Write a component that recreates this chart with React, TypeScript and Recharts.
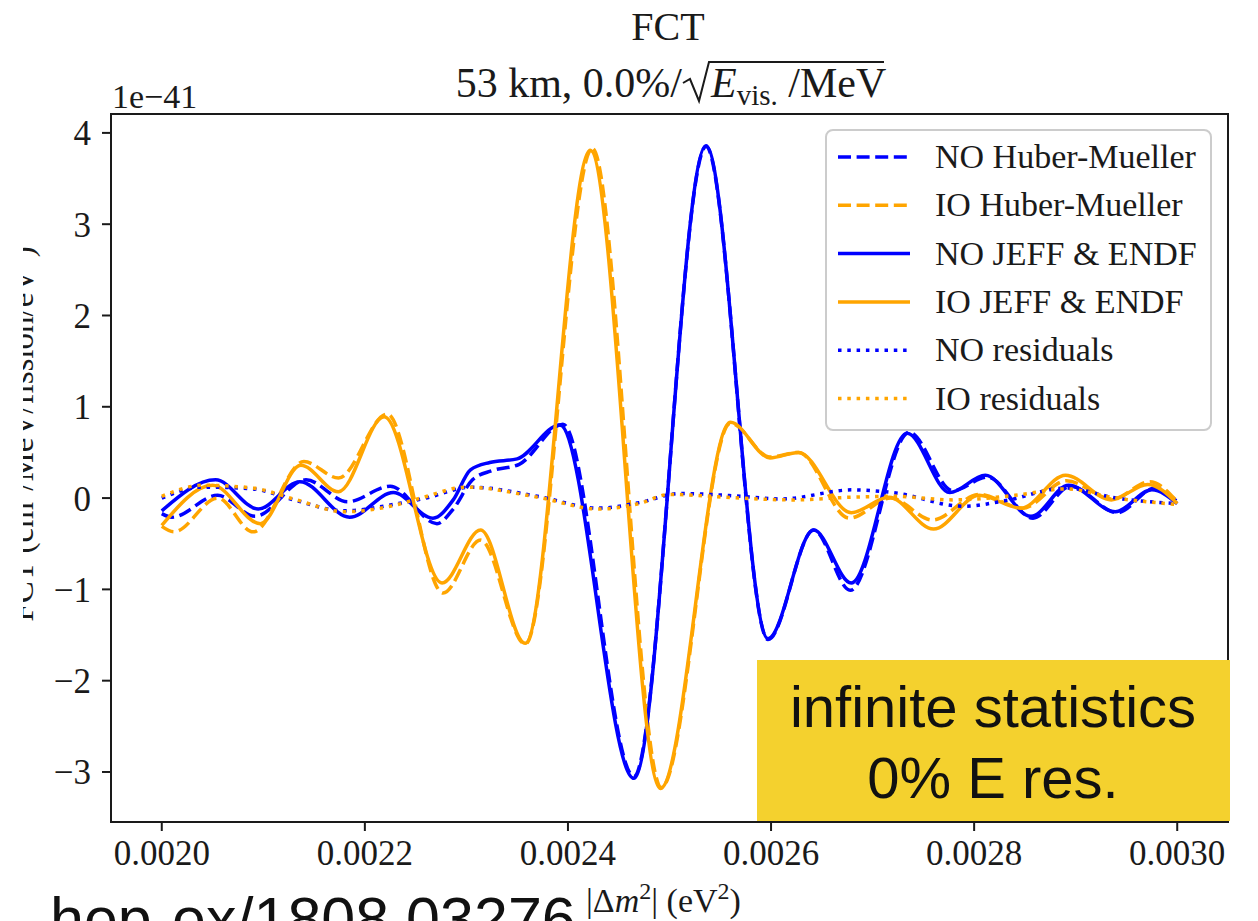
import React from 'react';
import { LineChart, Line, XAxis, YAxis, ReferenceArea } from 'recharts';

// ---- data (x in eV^2, y in units of 1e-41) ----
const NO_HM: [number, number][] = [
  [0.002, -0.17], [0.00201, -0.21], [0.002055, 0.03], [0.002092, -0.2], [0.002142, 0.2],
  [0.002183, -0.04], [0.002225, 0.13], [0.002271, -0.28], [0.002287, -0.12], [0.002306, 0.2],
  [0.002325, 0.3], [0.002352, 0.37], [0.002395, 0.81], [0.002465, -3.05], [0.002536, 3.85],
  [0.002597, -1.55], [0.002642, -0.35], [0.002678, -1.01], [0.002736, 0.72], [0.002779, 0.08],
  [0.002813, 0.23], [0.002858, -0.22], [0.002895, 0.13], [0.002941, -0.16], [0.002978, 0.11],
  [0.003, -0.04],
];
const IO_HM: [number, number][] = [
  [0.002, -0.31], [0.002012, -0.37], [0.002055, 0.0], [0.00209, -0.37], [0.00214, 0.4],
  [0.002174, 0.22], [0.002222, 0.92], [0.002277, -1.04], [0.002314, -0.46], [0.002358, -1.6],
  [0.002424, 3.83], [0.002492, -3.17], [0.00256, 0.82], [0.002599, 0.45], [0.002627, 0.5],
  [0.002677, -0.22], [0.002718, 0.0], [0.002759, -0.24], [0.002805, 0.04], [0.002848, -0.11],
  [0.002891, 0.19], [0.002936, -0.01], [0.002973, 0.18], [0.003, -0.04],
];
const NO_JEFF: [number, number][] = [
  [0.002, -0.14], [0.002053, 0.2], [0.002095, -0.12], [0.002136, 0.18], [0.002185, -0.21],
  [0.002228, 0.06], [0.002267, -0.22], [0.002287, -0.02], [0.002304, 0.31], [0.002323, 0.39],
  [0.00235, 0.43], [0.002392, 0.8], [0.002465, -3.07], [0.002536, 3.86], [0.002597, -1.54],
  [0.002642, -0.35], [0.002679, -0.93], [0.002734, 0.71], [0.002776, 0.06], [0.002811, 0.25],
  [0.002856, -0.2], [0.002893, 0.14], [0.002939, -0.15], [0.002975, 0.09], [0.003, -0.06],
];
const IO_JEFF: [number, number][] = [
  [0.002, -0.3], [0.00205, 0.14], [0.002097, -0.28], [0.002137, 0.36], [0.002174, 0.07],
  [0.002219, 0.89], [0.002276, -0.93], [0.002314, -0.35], [0.002358, -1.59], [0.002422, 3.81],
  [0.002491, -3.18], [0.00256, 0.83], [0.002599, 0.44], [0.002627, 0.5], [0.002679, -0.16],
  [0.002716, 0.01], [0.00276, -0.34], [0.002805, 0.03], [0.002846, -0.11], [0.00289, 0.25],
  [0.002935, -0.02], [0.002971, 0.15], [0.003, -0.06],
];
const NO_RES: [number, number][] = [
  [0.002, 0.0], [0.00204, 0.12], [0.00209, 0.1], [0.00213, -0.02], [0.00218, -0.14],
  [0.002228, -0.07], [0.00226, 0.0], [0.002305, 0.12], [0.00237, 0.02], [0.00243, -0.11],
  [0.00247, -0.05], [0.00251, 0.05], [0.00257, 0.02], [0.00261, -0.01], [0.00268, 0.09],
  [0.00272, 0.06], [0.00279, -0.09], [0.00283, -0.03], [0.00289, 0.11], [0.00294, 0.0],
  [0.003, -0.06],
];
const IO_RES: [number, number][] = [
  [0.002, 0.02], [0.00204, 0.14], [0.00209, 0.11], [0.00213, -0.01], [0.00218, -0.15],
  [0.002225, -0.09], [0.002255, 0.0], [0.0023, 0.12], [0.00237, 0.01], [0.00243, -0.12],
  [0.00247, -0.06], [0.0025, 0.04], [0.00257, 0.0], [0.00262, -0.02], [0.00268, 0.01],
  [0.00272, 0.02], [0.00278, -0.02], [0.00284, 0.03], [0.00289, 0.1], [0.00294, 0.0],
  [0.003, -0.07],
];

const X_TICKS = [0.002, 0.0022, 0.0024, 0.0026, 0.0028, 0.003];
const Y_TICKS = [-3, -2, -1, 0, 1, 2, 3, 4];
const X_DOMAIN: [number, number] = [0.00195, 0.00305];
const Y_DOMAIN: [number, number] = [-3.548, 4.207];

const BLUE = '#0000ff';
const ORANGE = '#ffa500';
const DASH = '13 5.6';
const DOT = '3.5 5.8';

const SERIES = [
  { name: 'NO Huber-Mueller', pts: NO_HM, color: BLUE, dash: DASH },
  { name: 'IO Huber-Mueller', pts: IO_HM, color: ORANGE, dash: DASH },
  { name: 'NO JEFF & ENDF', pts: NO_JEFF, color: BLUE, dash: undefined as string | undefined },
  { name: 'IO JEFF & ENDF', pts: IO_JEFF, color: ORANGE, dash: undefined as string | undefined },
  { name: 'NO residuals', pts: NO_RES, color: BLUE, dash: DOT },
  { name: 'IO residuals', pts: IO_RES, color: ORANGE, dash: DOT },
];

const SERIF = '"Liberation Serif", "Times New Roman", serif';
const SANS = '"Liberation Sans", Helvetica, Arial, sans-serif';
const INK = '#1a1a1a';

const fmtY = (v: number) => (v < 0 ? '\u2212' + Math.abs(v) : String(v));
const fmtX = (v: number) => v.toFixed(4);

export default function App() {
  return (
    <div style={{ position: 'absolute', left: 0, top: 0, width: 1258, height: 921, background: '#fff', overflow: 'hidden' }}>
      <LineChart width={1258} height={921} margin={{ top: 114, right: 30, bottom: 59, left: 51 }}>
        <XAxis
          type="number"
          dataKey="x"
          domain={X_DOMAIN}
          ticks={X_TICKS}
          tickFormatter={fmtX}
          allowDataOverflow
          height={40}
          tickSize={9}
          tickMargin={9}
          axisLine={{ stroke: INK, strokeWidth: 2 }}
          tickLine={{ stroke: INK, strokeWidth: 2 }}
          tick={{ fill: INK, fontSize: 35, fontFamily: SERIF }}
          interval={0}
        />
        <YAxis
          type="number"
          dataKey="y"
          domain={Y_DOMAIN}
          ticks={Y_TICKS}
          tickFormatter={fmtY}
          allowDataOverflow
          width={60}
          tickSize={9}
          tickMargin={11}
          axisLine={{ stroke: INK, strokeWidth: 2 }}
          tickLine={{ stroke: INK, strokeWidth: 2 }}
          tick={{ fill: INK, fontSize: 35, fontFamily: SERIF }}
          interval={0}
        />
        <ReferenceArea
          x1={X_DOMAIN[0]}
          x2={X_DOMAIN[1]}
          y1={Y_DOMAIN[0]}
          y2={Y_DOMAIN[1]}
          fill="none"
          fillOpacity={0}
          stroke={INK}
          strokeWidth={2}
          ifOverflow="visible"
        />
        {SERIES.map((s) => (
          <Line
            key={s.name}
            data={s.pts.map(([x, y]) => ({ x, y }))}
            dataKey="y"
            name={s.name}
            type="monotone"
            stroke={s.color}
            strokeWidth={3.5}
            strokeDasharray={s.dash}
            dot={false}
            activeDot={false}
            isAnimationActive={false}
          />
        ))}
      </LineChart>
      <svg
        width={1258}
        height={921}
        style={{ position: 'absolute', left: 0, top: 0, pointerEvents: 'none' }}
      >
        <defs>
          <clipPath id="ylabclip">
            <rect x={23} y={0} width={30} height={921} />
          </clipPath>
        </defs>
        {/* titles */}
        <text x={668} y={40} textAnchor="middle" fontSize={40} fontFamily={SERIF} fill={INK}>FCT</text>
        <text x={682} y={97} textAnchor="end" fontSize={42} fontFamily={SERIF} fill={INK}>53 km, 0.0%/</text>
        <path d="M683,83 L690,79 L699,101 L709,62 L884,62" fill="none" stroke={INK} strokeWidth={2} />
        <text x={711} y={97} fontSize={42} fontFamily={SERIF} fill={INK}>
          <tspan fontStyle="italic">E</tspan>
          <tspan fontSize={29} dy={8}>vis.</tspan>
          <tspan dy={-8}> /MeV</tspan>
        </text>
        {/* offset text */}
        <text x={112} y={108} fontSize={34} fontFamily={SERIF} fill={INK}>1e{'\u2212'}41</text>
        {/* y label (clipped as in the source) */}
        <g clipPath="url(#ylabclip)">
          <text transform="translate(33,434) rotate(-90)" textAnchor="middle" fontSize={33} fontFamily={SERIF} fill={INK}>
            FCT (cm<tspan fontSize={23} dy={-12}>2</tspan><tspan dy={12}>/MeV/fission/eV</tspan><tspan fontSize={23} dy={-12}>2</tspan><tspan dy={12}>)</tspan>
          </text>
        </g>
        {/* x label */}
        <text x={586} y={912} fontSize={34} fontFamily={SERIF} fill={INK}>
          |{'\u0394'}<tspan fontStyle="italic">m</tspan><tspan fontSize={24} dy={-13}>2</tspan><tspan dy={13}>| (eV</tspan><tspan fontSize={24} dy={-13}>2</tspan><tspan dy={13}>)</tspan>
        </text>
        {/* legend */}
        <rect x={826} y={130} width={385} height={300} rx={7} fill="#fff" fillOpacity={0.85} stroke="#cccccc" strokeWidth={2} />
        {SERIES.map((s, i) => {
          const y = 157 + i * 48.3;
          return (
            <g key={s.name}>
              <line x1={838} x2={910} y1={y} y2={y} stroke={s.color} strokeWidth={3.5} strokeDasharray={s.dash} />
              <text x={935} y={y + 11} fontSize={34} fontFamily={SERIF} fill={INK}>{s.name}</text>
            </g>
          );
        })}
        {/* annotation box */}
        <rect x={757} y={660} width={473} height={161} fill="#f4d12e" />
        <text x={993} y={727} textAnchor="middle" fontSize={58} fontFamily={SANS} fill="#111">infinite statistics</text>
        <text x={993} y={798} textAnchor="middle" fontSize={58} fontFamily={SANS} fill="#111">0% E res.</text>
        {/* reference */}
        <text x={50} y={940} fontSize={61} fontFamily={SANS} fill="#111">hep-ex/1808.03276</text>
      </svg>
    </div>
  );
}
